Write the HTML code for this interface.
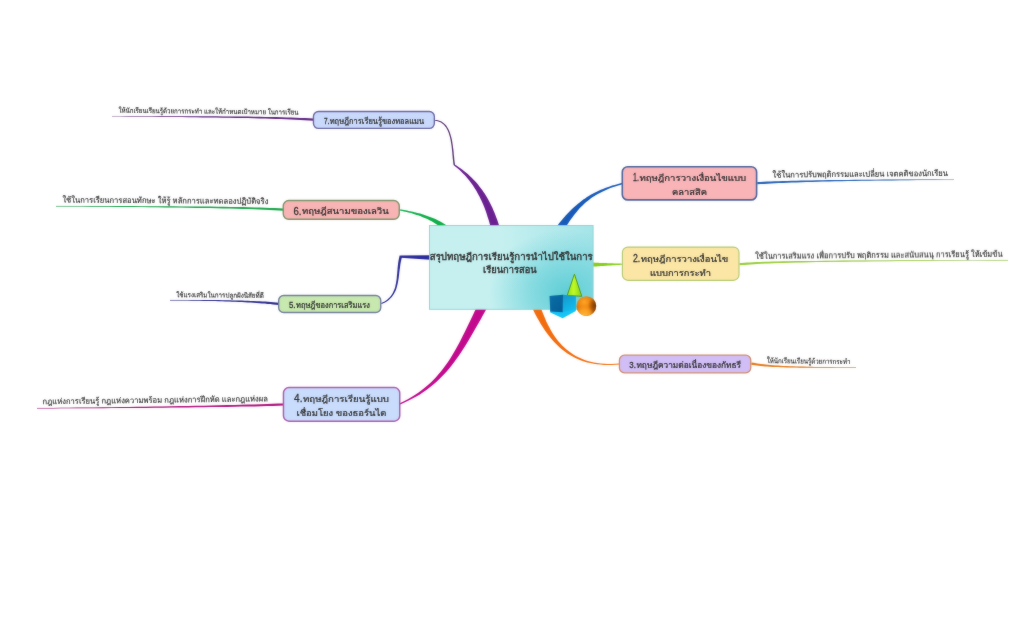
<!DOCTYPE html>
<html lang="th">
<head>
<meta charset="utf-8">
<title>สรุปทฤษฎีการเรียนรู้การนำไปใช้ในการเรียนการสอน</title>
<style>
html,body{margin:0;padding:0;background:#fff;}
body{width:1024px;height:641px;overflow:hidden;}
svg{display:block;position:absolute;left:0;top:0;}
svg text{font-family:"Liberation Sans", "Loma", "Noto Sans Thai Looped", "Noto Sans Thai", "Sarabun", sans-serif;white-space:pre;fill:#2c2c2c;font-weight:500;stroke:#2c2c2c;stroke-width:0.24px;}
#subtopics text{font-weight:400;stroke-width:0.14px;fill:#2c2c2c;}
#central text{stroke-width:0.36px;}
svg text.num{stroke-width:0.26px;}
</style>
</head>
<body>
<svg width="1024" height="641" viewBox="0 0 1024 641">
<defs>
<filter id="soft" filterUnits="userSpaceOnUse" x="0" y="0" width="1024" height="641" color-interpolation-filters="sRGB">
<feGaussianBlur in="SourceGraphic" stdDeviation="0.9" result="b"/>
<feComposite in="SourceGraphic" in2="b" operator="arithmetic" k1="0" k2="0.68" k3="0.32" k4="0"/>
</filter>
<linearGradient id="cg" gradientUnits="userSpaceOnUse" x1="500" y1="0" x2="594" y2="0">
<stop offset="0" stop-color="#c6f0f0"/><stop offset="1" stop-color="#a4e4e8"/>
</linearGradient>
<radialGradient id="cg2" gradientUnits="userSpaceOnUse" cx="566" cy="292" r="78" gradientTransform="translate(566 292) scale(1 0.8) translate(-566 -292)">
<stop offset="0" stop-color="#5ccdd5" stop-opacity="0.95"/><stop offset="0.45" stop-color="#64d0d8" stop-opacity="0.6"/><stop offset="1" stop-color="#6ad2da" stop-opacity="0"/>
</radialGradient>
<linearGradient id="cone" x1="0" y1="0" x2="1" y2="0">
<stop offset="0" stop-color="#92e01a"/><stop offset="0.45" stop-color="#c0fa24"/><stop offset="1" stop-color="#86d018"/>
</linearGradient>
<linearGradient id="cubeL" x1="0" y1="0" x2="1" y2="1">
<stop offset="0" stop-color="#0a6ea6"/><stop offset="1" stop-color="#065c94"/>
</linearGradient>
<linearGradient id="cubeR" x1="0" y1="0" x2="0.4" y2="1">
<stop offset="0" stop-color="#1696c8"/><stop offset="1" stop-color="#12bcee"/>
</linearGradient>
<radialGradient id="sph" cx="0.4" cy="0.3" r="0.75">
<stop offset="0" stop-color="#fca626"/><stop offset="0.4" stop-color="#ee8410"/><stop offset="0.75" stop-color="#cf6808"/><stop offset="1" stop-color="#8a4204"/>
</radialGradient>
<radialGradient id="sph2" cx="0.4" cy="1.0" r="0.55">
<stop offset="0" stop-color="#ffb838" stop-opacity="1"/><stop offset="0.55" stop-color="#ffa828" stop-opacity="0.85"/><stop offset="1" stop-color="#ffa020" stop-opacity="0"/>
</radialGradient>
<radialGradient id="sph3" cx="1.0" cy="0.45" r="0.42">
<stop offset="0" stop-color="#5a2800" stop-opacity="0.85"/><stop offset="0.5" stop-color="#6a3000" stop-opacity="0.5"/><stop offset="1" stop-color="#6a3000" stop-opacity="0"/>
</radialGradient>
</defs>
<g id="mindmap" filter="url(#soft)">
<rect width="1024" height="641" fill="#ffffff"/>
<g id="branches">
<path fill="#1759b8" d="M563.0,231.0 L565.3,227.7 L566.7,225.5 L568.1,223.4 L569.5,221.3 L570.9,219.3 L572.3,217.4 L573.7,215.5 L575.1,213.7 L576.6,211.9 L578.0,210.2 L579.4,208.5 L580.9,207.0 L582.5,205.4 L584.0,204.0 L585.6,202.6 L587.2,201.2 L588.9,199.9 L590.6,198.6 L592.3,197.3 L594.1,196.2 L596.0,195.0 L597.8,193.9 L599.8,192.9 L601.8,191.9 L603.8,190.9 L606.0,189.9 L608.1,189.0 L610.4,188.1 L612.7,187.3 L615.1,186.5 L617.5,185.7 L620.1,184.9 L622.7,184.2 L622.3,182.8 L619.7,183.5 L617.1,184.2 L614.6,184.9 L612.1,185.6 L609.8,186.4 L607.4,187.2 L605.2,188.0 L603.0,188.9 L600.8,189.8 L598.7,190.7 L596.7,191.7 L594.6,192.7 L592.7,193.7 L590.7,194.8 L588.8,196.0 L587.0,197.1 L585.1,198.4 L583.3,199.6 L581.5,201.0 L579.7,202.4 L578.0,203.8 L576.3,205.3 L574.5,206.8 L572.8,208.3 L571.0,210.0 L569.3,211.7 L567.6,213.5 L565.9,215.3 L564.2,217.2 L562.5,219.2 L560.8,221.2 L559.1,223.3 L556.8,226.5Z"/>
<path fill="#86cc18" d="M591.0,266.6 L593.0,266.6 L594.0,266.5 L594.9,266.5 L595.8,266.4 L596.7,266.4 L597.6,266.3 L598.6,266.3 L599.5,266.2 L600.4,266.1 L601.3,266.1 L602.2,266.0 L603.1,266.0 L604.0,265.9 L604.9,265.8 L605.8,265.8 L606.7,265.7 L607.6,265.6 L608.5,265.6 L609.4,265.5 L610.3,265.5 L611.2,265.4 L612.1,265.3 L613.0,265.3 L614.0,265.2 L614.9,265.2 L615.8,265.1 L616.7,265.0 L617.7,265.0 L618.6,264.9 L619.6,264.9 L620.6,264.8 L621.5,264.8 L622.5,264.7 L622.5,263.7 L621.5,263.7 L620.5,263.6 L619.6,263.6 L618.6,263.6 L617.7,263.5 L616.7,263.5 L615.8,263.4 L614.9,263.4 L613.9,263.4 L613.0,263.3 L612.1,263.3 L611.2,263.3 L610.3,263.2 L609.4,263.2 L608.4,263.2 L607.5,263.2 L606.6,263.1 L605.7,263.1 L604.8,263.1 L603.9,263.0 L603.0,263.0 L602.1,263.0 L601.2,262.9 L600.3,262.9 L599.4,262.9 L598.5,262.8 L597.6,262.8 L596.7,262.7 L595.8,262.7 L594.8,262.7 L593.9,262.6 L593.0,262.6 L591.0,262.6Z"/>
<path fill="#f26c0e" d="M532.2,307.2 L533.7,310.9 L535.4,314.4 L537.2,317.8 L539.1,321.1 L540.9,324.3 L542.9,327.3 L544.8,330.3 L546.8,333.1 L548.9,335.8 L551.1,338.4 L553.2,340.9 L555.4,343.3 L557.7,345.5 L560.0,347.7 L562.4,349.7 L564.8,351.6 L567.4,353.4 L570.0,355.1 L572.6,356.6 L575.4,358.0 L578.2,359.2 L581.1,360.4 L584.1,361.4 L587.2,362.4 L590.4,363.1 L593.7,363.8 L597.0,364.3 L600.5,364.6 L604.1,364.9 L607.8,365.0 L611.6,365.0 L615.5,364.8 L619.5,364.5 L619.5,363.5 L615.5,363.8 L611.6,363.9 L607.8,363.9 L604.2,363.7 L600.6,363.4 L597.2,363.0 L593.9,362.4 L590.7,361.7 L587.6,360.9 L584.6,359.9 L581.8,358.8 L579.0,357.6 L576.3,356.2 L573.7,354.7 L571.2,353.1 L568.8,351.3 L566.5,349.5 L564.3,347.5 L562.1,345.4 L560.1,343.2 L558.1,340.9 L556.2,338.5 L554.4,335.9 L552.6,333.2 L551.0,330.4 L549.4,327.5 L547.8,324.5 L546.3,321.4 L544.9,318.1 L543.5,314.8 L542.2,311.4 L540.9,307.9 L539.3,304.2Z"/>
<path fill="#c2088c" d="M478.5,303.9 L476.7,307.4 L474.8,311.1 L473.1,314.7 L471.3,318.4 L469.6,322.0 L467.9,325.6 L466.2,329.1 L464.5,332.6 L462.7,336.1 L461.0,339.5 L459.2,342.9 L457.4,346.3 L455.6,349.6 L453.7,352.8 L451.8,356.0 L449.8,359.2 L447.8,362.3 L445.6,365.3 L443.4,368.3 L441.1,371.2 L438.7,374.1 L436.2,376.9 L433.6,379.7 L430.9,382.4 L428.0,385.0 L425.0,387.6 L421.9,390.0 L418.6,392.4 L415.2,394.8 L411.6,397.0 L407.8,399.2 L403.9,401.3 L399.8,403.2 L400.2,404.4 L404.5,402.5 L408.6,400.6 L412.5,398.6 L416.3,396.5 L419.9,394.4 L423.4,392.1 L426.7,389.7 L429.9,387.3 L433.0,384.8 L436.0,382.2 L438.9,379.6 L441.6,376.8 L444.3,374.0 L446.9,371.2 L449.4,368.2 L451.8,365.2 L454.1,362.2 L456.4,359.1 L458.6,355.9 L460.8,352.7 L462.9,349.5 L465.0,346.2 L467.0,342.9 L469.1,339.5 L471.0,336.2 L473.0,332.7 L475.0,329.3 L477.0,325.8 L478.9,322.4 L480.9,318.9 L482.9,315.3 L484.9,311.8 L486.8,308.3Z"/>
<path fill="#28289a" d="M430,255.3 L400.2,255.4 L400.6,257.7 L430,259.8Z"/>
<path fill="#2a2a94" d="M399.6,255.6 L399.2,257.4 L398.8,259.2 L398.5,260.9 L398.2,262.7 L398.0,264.5 L397.8,266.3 L397.6,268.0 L397.5,269.8 L397.3,271.5 L397.2,273.3 L397.0,275.0 L396.8,276.7 L396.7,278.4 L396.5,280.0 L396.2,281.7 L396.0,283.3 L395.6,284.8 L395.3,286.4 L394.9,287.9 L394.4,289.3 L393.8,290.8 L393.2,292.1 L392.5,293.5 L391.7,294.8 L390.8,296.0 L389.8,297.2 L388.7,298.3 L387.4,299.4 L386.1,300.4 L384.6,301.4 L382.9,302.3 L381.1,303.1 L381.5,304.1 L383.4,303.2 L385.1,302.4 L386.7,301.4 L388.2,300.4 L389.5,299.3 L390.7,298.1 L391.8,296.9 L392.8,295.6 L393.7,294.2 L394.5,292.8 L395.2,291.4 L395.9,289.9 L396.4,288.4 L396.9,286.8 L397.3,285.2 L397.7,283.6 L398.0,282.0 L398.3,280.3 L398.6,278.6 L398.8,276.9 L399.0,275.2 L399.2,273.5 L399.4,271.7 L399.6,270.0 L399.9,268.3 L400.1,266.5 L400.3,264.8 L400.6,263.1 L400.9,261.4 L401.3,259.7 L401.7,258.0 L402.2,256.4Z"/>
<path fill="#0eae48" d="M447.7,226.3 L444.5,224.0 L443.2,223.2 L442.0,222.5 L440.7,221.7 L439.4,221.0 L438.1,220.4 L436.8,219.7 L435.4,219.1 L434.1,218.5 L432.7,218.0 L431.4,217.4 L430.0,216.9 L428.6,216.4 L427.2,215.9 L425.8,215.4 L424.4,214.9 L423.0,214.5 L421.5,214.0 L420.1,213.6 L418.7,213.2 L417.2,212.9 L415.8,212.5 L414.3,212.2 L412.9,211.8 L411.4,211.5 L410.0,211.2 L408.5,210.9 L407.1,210.6 L405.6,210.3 L404.1,210.1 L402.7,209.8 L401.2,209.6 L399.8,209.4 L399.6,210.4 L401.0,210.7 L402.5,211.0 L403.9,211.4 L405.3,211.7 L406.7,212.0 L408.2,212.4 L409.6,212.8 L411.0,213.1 L412.4,213.5 L413.8,213.9 L415.2,214.4 L416.6,214.9 L418.0,215.3 L419.4,215.8 L420.8,216.3 L422.1,216.9 L423.5,217.4 L424.8,218.0 L426.1,218.5 L427.4,219.1 L428.7,219.8 L430.0,220.4 L431.2,221.1 L432.5,221.8 L433.7,222.5 L434.9,223.2 L436.0,224.0 L437.2,224.7 L438.3,225.5 L439.4,226.3 L440.5,227.2 L441.5,228.0 L444.8,230.4Z"/>
<path fill="#6a2090" d="M499.8,227.8 L498.6,224.0 L497.8,221.6 L497.0,219.3 L496.1,217.0 L495.3,214.8 L494.4,212.5 L493.4,210.3 L492.5,208.1 L491.5,206.0 L490.5,203.9 L489.4,201.8 L488.3,199.8 L487.2,197.7 L486.0,195.7 L484.8,193.8 L483.5,191.9 L482.2,190.0 L480.8,188.2 L479.4,186.4 L478.0,184.6 L476.5,182.8 L474.9,181.1 L473.3,179.5 L471.7,177.8 L470.0,176.2 L468.3,174.6 L466.5,173.1 L464.6,171.6 L462.8,170.1 L460.8,168.6 L458.8,167.2 L456.8,165.8 L454.6,164.4 L454.0,165.4 L455.9,166.9 L457.8,168.5 L459.6,170.1 L461.3,171.8 L463.0,173.4 L464.6,175.1 L466.2,176.8 L467.6,178.5 L469.1,180.2 L470.4,182.0 L471.7,183.7 L473.0,185.6 L474.2,187.4 L475.4,189.2 L476.5,191.1 L477.5,193.0 L478.6,194.9 L479.6,196.8 L480.5,198.7 L481.5,200.7 L482.4,202.7 L483.3,204.7 L484.1,206.7 L484.9,208.8 L485.7,210.9 L486.4,213.0 L487.1,215.2 L487.8,217.4 L488.5,219.6 L489.2,221.8 L489.8,224.1 L490.4,226.4 L491.5,230.3Z"/>
<path fill="#54306c" d="M455.1,165.1 L454.9,163.8 L454.7,162.4 L454.5,160.9 L454.3,159.4 L454.2,157.8 L454.0,156.1 L453.8,154.4 L453.7,152.6 L453.5,150.8 L453.3,149.0 L453.0,147.2 L452.8,145.3 L452.5,143.5 L452.2,141.6 L451.9,139.8 L451.5,138.0 L451.0,136.3 L450.5,134.6 L450.0,132.9 L449.4,131.3 L448.7,129.8 L447.9,128.3 L447.1,126.9 L446.2,125.6 L445.2,124.5 L444.1,123.4 L442.8,122.4 L441.5,121.6 L440.1,120.9 L438.6,120.4 L437.0,120.0 L435.2,119.9 L435.2,120.9 L436.8,121.1 L438.3,121.5 L439.7,122.0 L441.0,122.6 L442.2,123.4 L443.3,124.3 L444.3,125.3 L445.2,126.4 L446.1,127.6 L446.9,128.9 L447.6,130.3 L448.2,131.8 L448.8,133.3 L449.3,134.9 L449.8,136.6 L450.2,138.3 L450.6,140.1 L450.9,141.9 L451.2,143.7 L451.5,145.5 L451.7,147.3 L451.9,149.1 L452.1,151.0 L452.3,152.7 L452.4,154.5 L452.6,156.2 L452.7,157.9 L452.9,159.5 L453.1,161.1 L453.2,162.6 L453.4,164.0 L453.7,165.3Z"/>
</g>
<g id="underlines">
<path fill="none" stroke="#6a6a6a" stroke-opacity="0.4" stroke-width="0.6" d="M757.3,183.2 C790,181.2 850,180.0 954,179.6"/>
<path fill="#2460b4" d="M757.4,184.3 L760.5,184.1 L763.8,183.9 L767.3,183.7 L770.9,183.5 L774.7,183.3 L778.7,183.1 L782.9,182.9 L787.2,182.8 L791.8,182.6 L796.5,182.4 L801.4,182.2 L806.5,182.1 L811.8,181.9 L817.3,181.8 L823.0,181.6 L828.9,181.5 L835.0,181.3 L841.4,181.2 L847.9,181.1 L854.7,180.9 L861.7,180.8 L868.9,180.7 L876.3,180.6 L884.0,180.5 L891.9,180.4 L900.0,180.3 L908.4,180.2 L917.0,180.1 L925.9,180.0 L935.0,179.9 L944.4,179.8 L954.0,179.8 L954.0,179.4 L944.4,179.4 L935.0,179.4 L925.9,179.5 L917.0,179.5 L908.4,179.5 L900.0,179.6 L891.9,179.6 L884.0,179.6 L876.3,179.7 L868.9,179.7 L861.7,179.8 L854.7,179.8 L847.9,179.9 L841.4,180.0 L835.0,180.1 L828.9,180.1 L823.0,180.2 L817.3,180.3 L811.8,180.4 L806.5,180.5 L801.4,180.6 L796.4,180.7 L791.7,180.8 L787.2,180.9 L782.8,181.1 L778.6,181.2 L774.6,181.3 L770.8,181.5 L767.2,181.6 L763.7,181.7 L760.4,181.9 L757.2,182.1Z"/>
<path fill="none" stroke="#6a6a6a" stroke-opacity="0.4" stroke-width="0.6" d="M739.6,264.2 C765,262.0 810,260.8 1008,260.3"/>
<path fill="#98cc38" d="M739.7,265.3 L742.1,265.1 L744.7,264.9 L747.4,264.7 L750.4,264.4 L753.5,264.2 L756.9,264.0 L760.5,263.8 L764.4,263.6 L768.7,263.4 L773.3,263.3 L778.2,263.1 L783.5,262.9 L789.2,262.7 L795.4,262.6 L802.0,262.4 L809.1,262.3 L816.7,262.1 L824.8,262.0 L833.5,261.8 L842.8,261.7 L852.6,261.6 L863.1,261.5 L874.3,261.3 L886.1,261.2 L898.6,261.1 L911.9,261.0 L925.9,260.9 L940.7,260.8 L956.2,260.7 L972.6,260.6 L989.9,260.6 L1008.0,260.5 L1008.0,260.1 L989.9,260.1 L972.6,260.2 L956.2,260.2 L940.7,260.2 L925.9,260.3 L911.9,260.3 L898.6,260.3 L886.1,260.4 L874.3,260.4 L863.1,260.5 L852.6,260.6 L842.8,260.6 L833.5,260.7 L824.8,260.8 L816.7,260.9 L809.1,261.0 L802.0,261.0 L795.3,261.1 L789.2,261.2 L783.5,261.3 L778.1,261.5 L773.2,261.6 L768.6,261.7 L764.4,261.8 L760.4,262.0 L756.8,262.1 L753.4,262.2 L750.2,262.4 L747.3,262.6 L744.5,262.7 L742.0,262.9 L739.5,263.1Z"/>
<path fill="none" stroke="#6a6a6a" stroke-opacity="0.4" stroke-width="0.6" d="M751.4,363.6 C770,367 800,367.5 856,367.5"/>
<path fill="#e47818" d="M751.2,364.7 L753.0,365.0 L754.9,365.3 L756.8,365.5 L758.8,365.8 L760.9,366.0 L763.1,366.2 L765.3,366.4 L767.6,366.5 L770.1,366.7 L772.6,366.9 L775.2,367.0 L777.9,367.1 L780.7,367.2 L783.6,367.3 L786.5,367.4 L789.7,367.5 L792.9,367.6 L796.2,367.6 L799.6,367.7 L803.2,367.7 L806.9,367.7 L810.7,367.8 L814.6,367.8 L818.6,367.8 L822.8,367.8 L827.1,367.8 L831.6,367.8 L836.2,367.8 L840.9,367.8 L845.8,367.7 L850.8,367.7 L856.0,367.7 L856.0,367.3 L850.8,367.3 L845.8,367.3 L840.9,367.2 L836.2,367.2 L831.6,367.1 L827.1,367.1 L822.8,367.0 L818.7,367.0 L814.6,366.9 L810.7,366.8 L806.9,366.7 L803.2,366.6 L799.7,366.5 L796.2,366.4 L792.9,366.3 L789.7,366.2 L786.6,366.0 L783.6,365.9 L780.7,365.7 L777.9,365.5 L775.3,365.4 L772.7,365.2 L770.2,365.0 L767.8,364.7 L765.5,364.5 L763.3,364.3 L761.1,364.0 L759.1,363.7 L757.1,363.4 L755.2,363.1 L753.4,362.8 L751.6,362.5Z"/>
<path fill="none" stroke="#6a6a6a" stroke-opacity="0.4" stroke-width="0.6" d="M313.4,119.6 C270,117 200,116.6 112,116.4"/>
<path fill="#5e2480" d="M313.5,118.5 L309.3,118.2 L305.0,118.1 L300.5,117.9 L295.9,117.7 L291.2,117.5 L286.3,117.4 L281.2,117.3 L276.0,117.1 L270.7,117.0 L265.2,116.9 L259.6,116.8 L253.8,116.7 L247.9,116.6 L241.9,116.6 L235.7,116.5 L229.4,116.4 L223.0,116.4 L216.5,116.3 L209.8,116.3 L203.0,116.3 L196.0,116.2 L189.0,116.2 L181.8,116.2 L174.5,116.2 L167.1,116.2 L159.5,116.2 L151.9,116.2 L144.1,116.2 L136.3,116.2 L128.3,116.2 L120.2,116.2 L112.0,116.2 L112.0,116.6 L120.2,116.6 L128.3,116.7 L136.3,116.7 L144.1,116.8 L151.9,116.8 L159.5,116.9 L167.1,117.0 L174.5,117.0 L181.8,117.1 L189.0,117.2 L196.0,117.3 L202.9,117.4 L209.8,117.4 L216.4,117.5 L223.0,117.7 L229.4,117.8 L235.7,117.9 L241.9,118.0 L247.9,118.1 L253.8,118.3 L259.5,118.4 L265.2,118.6 L270.6,118.8 L276.0,118.9 L281.2,119.1 L286.2,119.3 L291.1,119.5 L295.9,119.8 L300.5,120.0 L304.9,120.2 L309.2,120.5 L313.3,120.7Z"/>
<path fill="none" stroke="#6a6a6a" stroke-opacity="0.4" stroke-width="0.6" d="M283.2,209.6 C240,207 150,206.6 56,206.2"/>
<path fill="#18a448" d="M283.3,208.5 L279.1,208.2 L274.6,208.0 L269.9,207.9 L264.9,207.7 L259.7,207.5 L254.3,207.4 L248.6,207.3 L242.7,207.1 L236.6,207.0 L230.3,206.9 L223.8,206.8 L217.1,206.7 L210.3,206.6 L203.2,206.5 L196.0,206.5 L188.7,206.4 L181.1,206.4 L173.5,206.3 L165.7,206.3 L157.8,206.2 L149.8,206.2 L141.7,206.2 L133.4,206.1 L125.1,206.1 L116.7,206.1 L108.2,206.1 L99.6,206.1 L91.0,206.1 L82.3,206.0 L73.6,206.0 L64.8,206.0 L56.0,206.0 L56.0,206.4 L64.8,206.4 L73.6,206.5 L82.3,206.6 L91.0,206.7 L99.6,206.7 L108.2,206.8 L116.7,206.9 L125.1,207.0 L133.4,207.0 L141.6,207.1 L149.8,207.2 L157.8,207.3 L165.7,207.4 L173.5,207.5 L181.1,207.6 L188.6,207.7 L196.0,207.9 L203.2,208.0 L210.2,208.1 L217.1,208.3 L223.8,208.4 L230.3,208.6 L236.6,208.8 L242.7,208.9 L248.6,209.1 L254.2,209.3 L259.7,209.5 L264.9,209.8 L269.8,210.0 L274.5,210.2 L279.0,210.5 L283.1,210.7Z"/>
<path fill="none" stroke="#6a6a6a" stroke-opacity="0.4" stroke-width="0.6" d="M278.6,303.8 C250,301 220,300.4 170,300.2"/>
<path fill="#28288c" d="M278.7,302.7 L276.0,302.4 L273.3,302.2 L270.6,302.0 L267.9,301.8 L265.1,301.6 L262.3,301.5 L259.5,301.3 L256.7,301.2 L253.8,301.0 L250.9,300.9 L247.9,300.8 L244.9,300.7 L241.8,300.6 L238.7,300.5 L235.6,300.4 L232.3,300.4 L229.1,300.3 L225.7,300.2 L222.3,300.2 L218.8,300.1 L215.2,300.1 L211.6,300.1 L207.9,300.1 L204.0,300.0 L200.1,300.0 L196.1,300.0 L192.0,300.0 L187.9,300.0 L183.6,300.0 L179.1,300.0 L174.6,300.0 L170.0,300.0 L170.0,300.4 L174.6,300.4 L179.1,300.5 L183.5,300.5 L187.8,300.6 L192.0,300.7 L196.1,300.7 L200.1,300.8 L204.0,300.9 L207.8,301.0 L211.6,301.0 L215.2,301.1 L218.8,301.2 L222.3,301.3 L225.7,301.4 L229.0,301.6 L232.3,301.7 L235.5,301.8 L238.7,302.0 L241.8,302.1 L244.8,302.3 L247.8,302.4 L250.8,302.6 L253.7,302.8 L256.5,303.0 L259.4,303.2 L262.2,303.4 L264.9,303.6 L267.7,303.9 L270.4,304.1 L273.1,304.4 L275.8,304.7 L278.5,304.9Z"/>
<path fill="none" stroke="#6a6a6a" stroke-opacity="0.4" stroke-width="0.6" d="M283.4,404.5 C230,406.5 120,407.8 37,408.2"/>
<path fill="#b0107c" d="M283.4,403.4 L278.2,403.6 L272.7,403.8 L266.9,404.0 L260.9,404.2 L254.5,404.4 L247.9,404.6 L241.1,404.8 L234.0,405.0 L226.8,405.1 L219.3,405.3 L211.6,405.5 L203.8,405.7 L195.9,405.8 L187.8,406.0 L179.6,406.1 L171.3,406.3 L162.9,406.4 L154.4,406.6 L145.9,406.7 L137.4,406.8 L128.8,407.0 L120.2,407.1 L111.6,407.2 L103.0,407.3 L94.5,407.4 L86.0,407.5 L77.6,407.6 L69.2,407.7 L61.0,407.8 L52.9,407.9 L44.9,408.0 L37.0,408.0 L37.0,408.4 L44.9,408.4 L52.9,408.4 L61.0,408.3 L69.2,408.3 L77.6,408.3 L86.0,408.2 L94.5,408.2 L103.0,408.2 L111.6,408.1 L120.2,408.0 L128.8,408.0 L137.4,407.9 L145.9,407.9 L154.4,407.8 L162.9,407.7 L171.3,407.6 L179.6,407.5 L187.8,407.4 L195.9,407.3 L203.9,407.2 L211.7,407.1 L219.3,407.0 L226.8,406.9 L234.1,406.8 L241.1,406.6 L248.0,406.5 L254.6,406.4 L260.9,406.2 L267.0,406.1 L272.8,406.0 L278.3,405.8 L283.4,405.6Z"/>
</g>
<g id="central">
<rect x="429.5" y="225.5" width="163.6" height="83.8" fill="url(#cg)"/>
<rect x="429.5" y="225.5" width="163.6" height="83.8" fill="url(#cg2)" stroke="#8fcfd0" stroke-width="0.9"/>
<text x="429.8" y="259.8" font-size="9.5" textLength="163.0" lengthAdjust="spacingAndGlyphs">สรุปทฤษฎีการเรียนรู้การนำไปใช้ในการ</text>
<text x="483.0" y="273.0" font-size="9.5" textLength="53.7" lengthAdjust="spacingAndGlyphs">เรียนการสอน</text>
</g>
<g id="icon">
<polygon points="574.4,274.2 567.2,295.4 581.8,296.3" fill="url(#cone)" stroke="#4c8e14" stroke-width="0.9" stroke-linejoin="round"/>
<polygon points="549.6,296.1 563,294.7 575.8,296.1 575.8,311 562.7,318.2 550.3,312.6" fill="#14c4f6"/>
<polygon points="549.6,296.1 563,294.7 562.8,312.3 550.3,311.4" fill="url(#cubeL)"/>
<polygon points="563,294.7 575.8,296.1 575.8,309.6 562.8,312.3" fill="url(#cubeR)"/>
<circle cx="586.3" cy="306.1" r="9.9" fill="url(#sph)"/>
<circle cx="586.3" cy="306.1" r="9.9" fill="url(#sph2)"/>
<circle cx="586.3" cy="306.1" r="9.9" fill="url(#sph3)"/>
</g>
<g id="topics">
<g id="t1">
<rect x="622.28" y="166.68" width="134.34" height="33.24" rx="5.5" ry="5.5" fill="#f9b4b8" stroke="#4c6298" stroke-width="1.61"/>
<text class="num" x="633.0" y="181.1" font-size="10.6" textLength="5.9" lengthAdjust="spacingAndGlyphs">1.</text><text x="639.4" y="180.8" font-size="8.7" textLength="106.8" lengthAdjust="spacingAndGlyphs">ทฤษฎีการวางเงื่อนไขแบบ</text>
<text x="672.1" y="194.9" font-size="8.7" textLength="35.0" lengthAdjust="spacingAndGlyphs">คลาสสิค</text>
</g>
<g id="t2">
<rect x="622.40" y="247.10" width="116.60" height="33.20" rx="5.5" ry="5.5" fill="#fbe6a6" stroke="#b4c870" stroke-width="1.15"/>
<text class="num" x="633.0" y="262.0" font-size="10.6" textLength="7.3" lengthAdjust="spacingAndGlyphs">2.</text><text x="640.8" y="261.7" font-size="8.7" textLength="87.4" lengthAdjust="spacingAndGlyphs">ทฤษฎีการวางเงื่อนไข</text>
<text x="650.0" y="275.8" font-size="8.7" textLength="61.0" lengthAdjust="spacingAndGlyphs">แบบการกระทำ</text>
</g>
<g id="t3">
<rect x="619.42" y="355.22" width="131.36" height="17.56" rx="5" ry="5" fill="#d1bef6" stroke="#cc8a6c" stroke-width="1.26"/>
<text class="num" x="629.3" y="368.3" font-size="9.8" textLength="6.6" lengthAdjust="spacingAndGlyphs">3.</text><text x="636.4" y="368.1" font-size="8.8" textLength="104.7" lengthAdjust="spacingAndGlyphs">ทฤษฎีความต่อเนื่องของกัทธรี</text>
</g>
<g id="t4">
<rect x="283.46" y="387.56" width="116.28" height="33.58" rx="5.5" ry="5.5" fill="#c9dcfc" stroke="#a85cac" stroke-width="1.49"/>
<text class="num" x="294.1" y="402.3" font-size="10.6" textLength="8.4" lengthAdjust="spacingAndGlyphs">4.</text><text x="303.0" y="402.0" font-size="8.7" textLength="86.0" lengthAdjust="spacingAndGlyphs">ทฤษฎีการเรียนรู้แบบ</text>
<text x="296.5" y="415.9" font-size="8.7" textLength="89.8" lengthAdjust="spacingAndGlyphs">เชื่อมโยง ของธอร์นได</text>
</g>
<g id="t5">
<rect x="278.64" y="295.44" width="102.12" height="17.02" rx="5" ry="5" fill="#c7e8ae" stroke="#707c98" stroke-width="1.38"/>
<text class="num" x="289.0" y="308.1" font-size="9.6" textLength="6.5" lengthAdjust="spacingAndGlyphs">5.</text><text x="296.0" y="307.9" font-size="8.5" textLength="73.9" lengthAdjust="spacingAndGlyphs">ทฤษฎีของการเสริมแรง</text>
</g>
<g id="t6">
<rect x="283.24" y="200.54" width="116.02" height="18.72" rx="5.5" ry="5.5" fill="#f8b4b4" stroke="#7c9068" stroke-width="1.38"/>
<text class="num" x="293.5" y="214.5" font-size="10.6" textLength="8.0" lengthAdjust="spacingAndGlyphs">6.</text><text x="302.0" y="214.2" font-size="8.7" textLength="86.7" lengthAdjust="spacingAndGlyphs">ทฤษฎีสนามของเลวิน</text>
</g>
<g id="t7">
<rect x="313.44" y="111.54" width="120.92" height="16.82" rx="5" ry="5" fill="#c9d9fc" stroke="#6864a0" stroke-width="1.38"/>
<text class="num" x="323.9" y="123.8" font-size="9.6" textLength="5.4" lengthAdjust="spacingAndGlyphs">7.</text><text x="329.7" y="123.6" font-size="8.5" textLength="94.3" lengthAdjust="spacingAndGlyphs">ทฤษฎีการเรียนรู้ของทอลแมน</text>
</g>
</g>
<g id="subtopics">
<text x="772.6" y="177.7" font-size="8.2" textLength="175.4" lengthAdjust="spacingAndGlyphs" transform="rotate(-0.59 772.6 177.7)">ใช้ในการปรับพฤติกรรมและเปลี่ยน เจตคติของนักเรียน</text>
<text x="755.2" y="258.8" font-size="8.2" textLength="247.4" lengthAdjust="spacingAndGlyphs" transform="rotate(-0.52 755.2 258.8)">ใช้ในการเสริมแรง เพื่อการปรับ พฤติกรรม และสนับสนนุ การเรียนรู้ ให้เข้มข้น</text>
<text x="766.7" y="363.1" font-size="7.2" textLength="83.7" lengthAdjust="spacingAndGlyphs" transform="rotate(0.7 766.7 363.1)">ให้นักเรียนเรียนรู้ด้วยการกระทำ</text>
<text x="118.5" y="112.8" font-size="7.0" textLength="180.0" lengthAdjust="spacingAndGlyphs" transform="rotate(0.6 118.5 112.8)">ให้นักเรียนเรียนรู้ด้วยการกระทำ และให้กำหนดเป้าหมาย ในการเรียน</text>
<text x="62.4" y="202.6" font-size="8.2" textLength="206.0" lengthAdjust="spacingAndGlyphs" transform="rotate(0.38 62.4 202.6)">ใช้ในการเรียนการสอนทักษะ ให้รู้ หลักการและทดลองปฏิบัติจริง</text>
<text x="176.3" y="297.2" font-size="7.0" textLength="87.4" lengthAdjust="spacingAndGlyphs" transform="rotate(0.5 176.3 297.2)">ใช้แรงเสริมในการปลูกฝังนิสัยที่ดี</text>
<text x="42.6" y="404.3" font-size="8.1" textLength="225.4" lengthAdjust="spacingAndGlyphs" transform="rotate(-0.75 42.6 404.3)">กฎแห่งการเรียนรู้ กฎแห่งความพร้อม กฎแห่งการฝึกหัด และกฎแห่งผล</text>
</g>
</g>
</svg>
</body>
</html>
